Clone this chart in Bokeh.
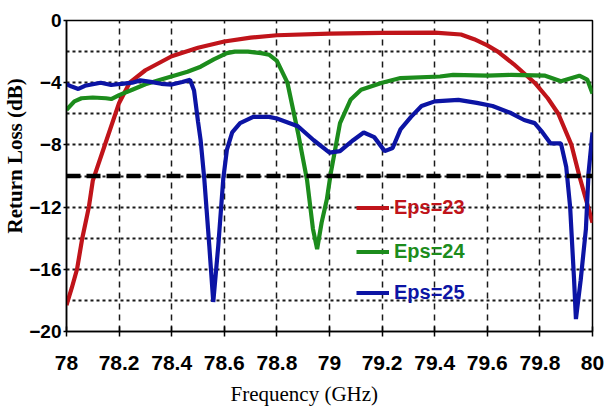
from bokeh.plotting import figure
from bokeh.models import FixedTicker, Legend, LegendItem, Span, Title
from bokeh.embed import file_html
from bokeh.resources import INLINE

# ---------------- data ----------------
freq_23 = [78.0, 78.02, 78.04, 78.06, 78.085, 78.1, 78.15, 78.2, 78.24, 78.3, 78.4,
           78.5, 78.6, 78.7, 78.8, 79.0, 79.2, 79.4, 79.5, 79.55, 79.6, 79.64,
           79.7, 79.78, 79.83, 79.87, 79.92, 79.95, 79.98, 80.0]
rl_23 = [-18.3, -17.2, -16.0, -14.0, -12.0, -10.3, -7.8, -5.3, -4.0, -3.2, -2.3,
         -1.75, -1.35, -1.1, -0.95, -0.85, -0.8, -0.78, -0.9, -1.2, -1.6, -2.0,
         -2.8, -4.0, -5.0, -6.0, -8.0, -10.0, -11.8, -13.0]

freq_24 = [78.0, 78.03, 78.057, 78.1, 78.15, 78.17, 78.2, 78.25, 78.3, 78.36, 78.46,
           78.51, 78.56, 78.61, 78.64, 78.69, 78.74, 78.77, 78.8, 78.84, 78.88,
           78.915, 78.937, 78.953, 78.97, 78.99, 79.005, 79.04, 79.08, 79.12, 79.2,
           79.27, 79.42, 79.47, 79.6, 79.69, 79.82, 79.88, 79.95, 79.98, 80.0]
rl_24 = [-5.75, -5.2, -5.0, -4.95, -5.0, -5.05, -4.8, -4.45, -4.1, -3.8, -3.3,
         -2.97, -2.5, -2.1, -2.0, -2.0, -2.1, -2.2, -2.6, -4.0, -7.2,
         -10.3, -13.4, -14.7, -13.0, -11.5, -9.8, -6.6, -5.1, -4.45, -4.0,
         -3.7, -3.6, -3.5, -3.55, -3.5, -3.55, -3.9, -3.55, -3.8, -4.7]

freq_25 = [78.0, 78.02, 78.045, 78.07, 78.1, 78.13, 78.17, 78.21, 78.25, 78.28, 78.32,
           78.36, 78.4, 78.44, 78.47, 78.485, 78.5, 78.51, 78.524, 78.543, 78.558,
           78.577, 78.596, 78.61, 78.63, 78.66, 78.71, 78.77, 78.8, 78.88, 78.94,
           79.0, 79.04, 79.09, 79.13, 79.17, 79.21, 79.24, 79.27, 79.31, 79.35,
           79.4, 79.49, 79.56, 79.62, 79.69, 79.74, 79.78, 79.81, 79.84, 79.88,
           79.9, 79.915, 79.93, 79.937, 79.955, 79.975, 79.985, 80.0]
rl_25 = [-4.1, -4.25, -4.4, -4.2, -4.1, -4.0, -4.15, -4.07, -4.0, -3.85, -3.95,
         -4.07, -4.12, -3.95, -3.82, -4.5, -6.5, -7.7, -10.2, -14.5, -18.1,
         -14.5, -10.2, -8.3, -7.2, -6.6, -6.2, -6.2, -6.3, -6.8, -7.7,
         -8.5, -8.4, -7.7, -7.2, -7.5, -8.4, -8.2, -7.0, -6.2, -5.5,
         -5.2, -5.1, -5.3, -5.5, -5.95, -6.4, -6.6, -7.2, -7.9, -7.9,
         -9.4, -12.0, -16.7, -19.2, -16.7, -13.4, -9.8, -7.2]

series_labels = ["Eps=23", "Eps=24", "Eps=25"]
series_colors = ["#c0141a", "#1c8c1c", "#0c14a4"]

x_ticks = [78, 78.2, 78.4, 78.6, 78.8, 79, 79.2, 79.4, 79.6, 79.8, 80]
x_tick_labels = ["78", "78.2", "78.4", "78.6", "78.8", "79", "79.2", "79.4", "79.6", "79.8", "80"]
y_ticks = [-20, -16, -12, -8, -4, 0]
y_grid = [-18, -16, -14, -12, -10, -8, -6, -4, -2]
x_grid = [78.2, 78.4, 78.6, 78.8, 79.0, 79.2, 79.4, 79.6, 79.8]
threshold = -10
x_title = "Frequency (GHz)"
y_title = "Return Loss (dB)"

# ---------------- figure ----------------
SANS = "Liberation Sans"
SERIF = "Liberation Serif"

p = figure(width=604, height=412, output_backend="svg", toolbar_location=None,
           x_range=(78, 80), y_range=(-20, 0),
           min_border_left=65, min_border_right=12, min_border_top=20, min_border_bottom=80)
p.background_fill_color = "white"
p.border_fill_color = "white"
p.outline_line_color = "black"
p.outline_line_width = 1.5

# axes
p.xaxis.ticker = FixedTicker(ticks=x_ticks)
p.xaxis.major_label_overrides = {t: l for t, l in zip(x_ticks, x_tick_labels)}
p.yaxis.ticker = FixedTicker(ticks=y_ticks)
for ax in (p.xaxis[0], p.yaxis[0]):
    ax.axis_line_color = "black"
    ax.axis_line_width = 1.5
    ax.major_tick_line_color = "black"
    ax.major_tick_line_width = 1.5
    ax.minor_tick_line_color = None
    ax.major_label_text_font = SANS
    ax.major_label_text_font_style = "bold"
    ax.major_label_text_color = "black"
    ax.axis_label_standoff = 0
p.xaxis.major_tick_in = 5
p.xaxis.major_tick_out = 5
p.xaxis.major_label_standoff = 19
p.xaxis.major_label_text_font_size = "21px"
p.yaxis.major_tick_in = 0
p.yaxis.major_tick_out = 3
p.yaxis.major_label_standoff = 2
p.yaxis.major_label_text_font_size = "19px"

# grids
p.xgrid.ticker = FixedTicker(ticks=x_grid)
p.xgrid.grid_line_color = "#1a1a1a"
p.xgrid.grid_line_dash = "6 5"
p.xgrid.grid_line_width = 1.5
p.ygrid.ticker = FixedTicker(ticks=y_grid)
p.ygrid.grid_line_color = "#1a1a1a"
p.ygrid.grid_line_dash = "3 3"
p.ygrid.grid_line_width = 1.8

# threshold line
p.add_layout(Span(location=threshold, dimension="width", line_color="black",
                  line_width=4.5, line_dash="14 6"))

# curves
r23 = p.line(freq_23, rl_23, line_color=series_colors[0], line_width=4.2)
r24 = p.line(freq_24, rl_24, line_color=series_colors[1], line_width=4.2)
r25 = p.line(freq_25, rl_25, line_color=series_colors[2], line_width=4.2)

# legends (one per series so each label has its own colour)
legend_y = [111, 67, 26]
for rend, lab, col, ly in zip([r23, r24, r25], series_labels, series_colors, legend_y):
    leg = Legend(items=[LegendItem(label=lab, renderers=[rend])], location=(290, ly),
                 padding=0, margin=0, spacing=0, glyph_width=33, glyph_height=25,
                 label_height=25, label_standoff=5,
                 background_fill_alpha=0, border_line_alpha=0,
                 label_text_font=SANS, label_text_font_style="bold",
                 label_text_font_size="20px", label_text_color=col)
    p.add_layout(leg, "center")

# axis titles
p.add_layout(Title(text=x_title, align="left", offset=164, standoff=14,
                   text_font=SERIF, text_font_size="21px", text_font_style="normal",
                   text_color="black"), "below")
p.add_layout(Title(text=y_title, align="left", offset=98, standoff=0,
                   text_font=SERIF, text_font_size="21px", text_font_style="bold",
                   text_color="black"), "left")

open("out.html", "w").write(file_html(p, INLINE))
